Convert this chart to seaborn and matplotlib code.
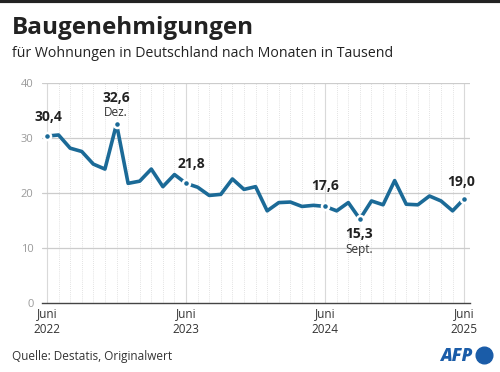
import matplotlib
matplotlib.use('Agg')
import matplotlib.pyplot as plt
from matplotlib.lines import Line2D
import seaborn as sns
import pandas as pd

# Baugenehmigungen pro Monat (Tausend), Juni 2022 bis Juni 2025
monate = list(range(37))
werte = [30.4, 30.6, 28.2, 27.6, 25.3, 24.4, 32.6, 21.8, 22.2, 24.4, 21.2, 23.4,
         21.8, 21.1, 19.6, 19.8, 22.6, 20.7, 21.2, 16.8, 18.3, 18.4, 17.6, 17.8,
         17.6, 16.8, 18.3, 15.3, 18.6, 17.9, 22.3, 18.0, 17.9, 19.5, 18.6, 16.8,
         19.0]
tick_pos = [0, 12, 24, 36]
tick_labels = ['Juni\n2022', 'Juni\n2023', 'Juni\n2024', 'Juni\n2025']
punkte = [0, 6, 12, 24, 27, 36]
beschriftungen = {0: '30,4', 6: '32,6', 12: '21,8', 24: '17,6', 27: '15,3', 36: '19,0'}

df = pd.DataFrame({'monat': monate, 'wert': werte})

sns.set_style('white')
plt.rcParams['font.family'] = ['Open Sans', 'DejaVu Sans']

blau = '#1b6a97'
fig = plt.figure(figsize=(5, 3.72), dpi=100)
ax = fig.add_axes([0.084, 0.185, 0.856, 0.591])

# gitter
for m in monate:
    if m in tick_pos:
        ax.axvline(m, color='#d9d9d9', lw=0.8, zorder=0)
    else:
        ax.axvline(m, color='#d9d9d9', lw=0.6, ls=(0, (1, 1.5)), zorder=0)
for y in [10, 20, 30, 40]:
    ax.axhline(y, color='#cccccc', lw=0.9, zorder=0)

sns.lineplot(data=df, x='monat', y='wert', color=blau, lw=2.6, ax=ax, zorder=3)
sel = df[df['monat'].isin(punkte)]
ax.scatter(sel['monat'], sel['wert'], s=26, color=blau, edgecolor='white',
           linewidth=1.8, zorder=4)

ax.set_xlim(-0.43, 36.5)
ax.set_ylim(0, 40)
ax.set_xticks(tick_pos)
ax.set_xticklabels(tick_labels, fontsize=8.5, color='#333333', linespacing=1.25)
ax.set_yticks([0, 10, 20, 30, 40])
ax.set_yticklabels(['0', '10', '20', '30', '40'], fontsize=8, color='#9a9a9a')
ax.tick_params(axis='x', length=0, pad=3)
ax.tick_params(axis='y', length=0, pad=6)
ax.set_xlabel('')
ax.set_ylabel('')
for s in ['top', 'right', 'left']:
    ax.spines[s].set_visible(False)
ax.spines['bottom'].set_color('#444444')
ax.spines['bottom'].set_linewidth(1.0)

# wertebeschriftungen
lab = dict(fontsize=10, fontweight='bold', color='#222222', ha='center', va='center')
ax.text(0.1, 33.9, beschriftungen[0], **lab)
ax.text(5.96, 37.3, beschriftungen[6], **lab)
ax.text(5.96, 34.7, 'Dez.', fontsize=8.5, color='#333333', ha='center', va='center')
ax.text(12.46, 25.3, beschriftungen[12], **lab)
ax.text(23.98, 21.3, beschriftungen[24], **lab)
ax.text(26.9, 12.5, beschriftungen[27], **lab)
ax.text(26.9, 9.7, 'Sept.', fontsize=8.5, color='#333333', ha='center', va='center')
ax.text(35.7, 22.0, beschriftungen[36], **lab)

# kopf
fig.add_artist(Line2D([0, 1], [0.996, 0.996], transform=fig.transFigure,
                      color='#222222', lw=3))
fig.text(0.024, 0.925, 'Baugenehmigungen', fontsize=17.5, fontweight='bold',
         color='#222222', va='center')
fig.text(0.024, 0.857, 'für Wohnungen in Deutschland nach Monaten in Tausend',
         fontsize=10.2, color='#222222', va='center')

# fuss
fig.text(0.024, 0.043, 'Quelle: Destatis, Originalwert', fontsize=8.5,
         color='#333333', va='center')
fig.text(0.946, 0.043, 'AFP', fontsize=12.5, fontweight='heavy', style='italic',
         color='#1a5ca8', va='center', ha='right')
fig.add_artist(Line2D([0.967], [0.045], transform=fig.transFigure, marker='o',
                      markersize=12, color='#1a5ca8', lw=0))

fig.savefig('out.png', dpi=100)
